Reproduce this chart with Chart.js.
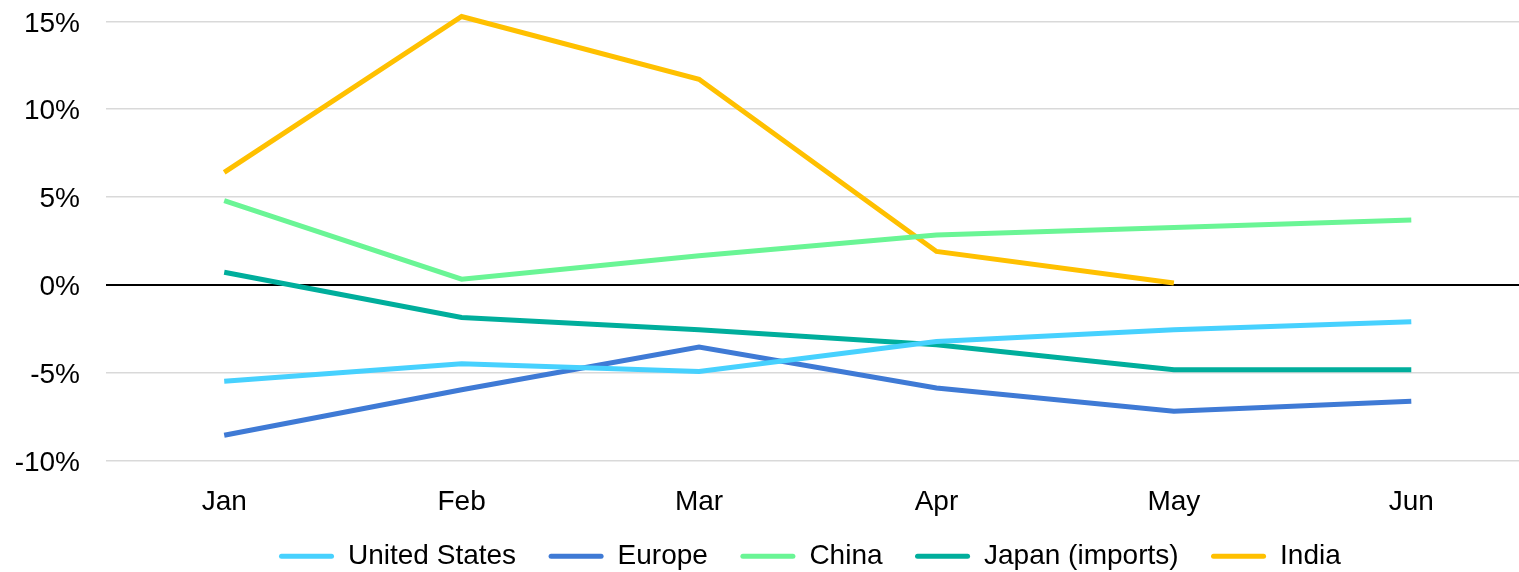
<!DOCTYPE html>
<html><head><meta charset="utf-8">
<script src="https://cdn.jsdelivr.net/npm/chart.js@4/dist/chart.umd.min.js"></script>
<style>
html,body{margin:0;padding:0;overflow:hidden;background:#fff}
#wrap{width:1530px;height:572px;position:relative;overflow:hidden}
canvas{display:block}
</style></head>
<body><div id="wrap"><canvas id="c" width="1530" height="631"></canvas></div>
<script>
// ---- data ----
const months = ['Jan','Feb','Mar','Apr','May','Jun'];
const unitedStates = [-5.49,-4.49,-4.93,-3.22,-2.56,-2.1];
const europe = [-8.56,-5.97,-3.54,-5.87,-7.2,-6.63];
const china = [4.8,0.32,1.66,2.84,3.26,3.69];
const japanImports = [0.72,-1.86,-2.56,-3.41,-4.83,-4.83];
const india = [6.4,15.28,11.7,1.9,0.1,null];
const yTicks = [-10,-5,0,5,10,15];
const seriesNames = ['United States','Europe','China','Japan (imports)','India'];

// ---- style ----
const colors = ['#47D1FE','#3F7AD5','#6AF595','#00AE9C','#FFC000'];
const FONT = {family:"'Liberation Sans', Arial, sans-serif", size:28};
const LEGEND_START = 279;   // left edge of the legend row (page px)
const LEGEND_Y = 556;       // vertical centre of the legend row (page px)

const seriesValues = [unitedStates, europe, china, japanImports, india];

const layoutFix = {
  id:'layoutFix',
  afterLayout(chart){
    const top = chart.chartArea.top;
    // align the top of the plot area with the top of the page
    chart.canvas.style.marginTop = (-top) + 'px';
    const L = chart.legend;
    if(!L || !L.lineWidths) return;
    const p = L.options.labels.padding;
    const cur = (L.left + p + L.right - L.lineWidths[0]) / 2;
    const dx = LEGEND_START - cur;
    L.left += dx; L.right += dx;
    const itemH = L.options.labels.font.size;
    const dy = (LEGEND_Y + top) - (L.top + p + itemH / 2);
    L.top += dy; L.bottom += dy;
  }
};

new Chart(document.getElementById('c'), {
  type:'line',
  data:{
    labels: months,
    datasets: seriesNames.map((n,i)=>({
      label:n,
      data:seriesValues[i],
      borderColor:colors[i],
      backgroundColor:colors[i],
      borderWidth:5,
      pointRadius:0,
      pointHoverRadius:0,
      tension:0,
      fill:false,
      spanGaps:false
    }))
  },
  options:{
    responsive:false,
    devicePixelRatio:1,
    animation:false,
    layout:{autoPadding:false},
    plugins:{
      tooltip:{enabled:false},
      legend:{
        position:'bottom',
        labels:{
          font:FONT,
          color:'#000',
          boxWidth:55,
          boxHeight:5,
          padding:32.5,
          useBorderRadius:true,
          borderRadius:2.5,
          generateLabels(chart){
            return chart.data.datasets.map((ds,i)=>({
              text:ds.label,
              fillStyle:ds.borderColor,
              strokeStyle:ds.borderColor,
              lineWidth:0,
              hidden:false,
              datasetIndex:i,
              borderRadius:2.5,
              fontColor:'#000'
            }));
          }
        }
      }
    },
    scales:{
      x:{
        offset:true,
        grid:{display:false,drawTicks:false},
        border:{display:false},
        ticks:{font:FONT,color:'#000',padding:25,maxRotation:0,autoSkip:false},
        afterFit(s){ s.height = 58; }
      },
      y:{
        min:-10,
        max:16.2,
        afterBuildTicks(s){ s.ticks = yTicks.map(v=>({value:v})); },
        afterFit(s){ s.width = 105.5; },
        grid:{
          drawTicks:false,
          color:c=> c.tick && c.tick.value===0 ? '#000' : '#D9D9D9',
          lineWidth:c=> c.tick && c.tick.value===0 ? 2 : 1.5
        },
        border:{display:false},
        ticks:{font:FONT,color:'#000',padding:25.5,labelOffset:2.5,callback:v=>v+'%'}
      }
    }
  },
  plugins:[layoutFix]
});
</script>
</body></html>
